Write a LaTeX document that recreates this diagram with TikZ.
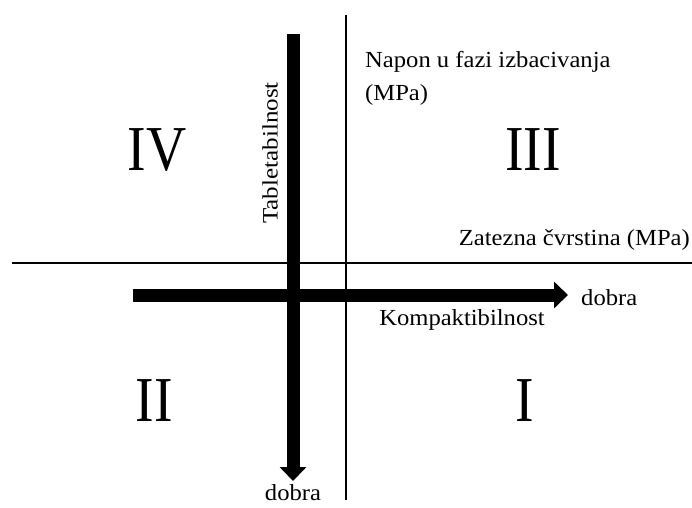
\documentclass[tikz,border=0pt]{standalone}
\usepackage{fontspec}
\setmainfont{Liberation Serif}
\newfontfamily\lblfont[FakeStretch=1.07]{Liberation Serif}
\newfontfamily\vertfont[FakeStretch=1.14]{Liberation Serif}
\newfontfamily\quadfont[FakeStretch=0.87]{Liberation Serif}
\usetikzlibrary{arrows.meta}
\begin{document}
\begin{tikzpicture}[x=1pt,y=-1pt,
  thinaxis/.style={line width=2.6pt},
  thickarrow/.style={line width=13pt,-{Triangle[length=14pt,width=26pt]}},
  lbl/.style={font=\lblfont\fontsize{23}{33}\selectfont, inner sep=0pt},
  vlbl/.style={font=\vertfont\fontsize{22}{26}\selectfont, inner sep=0pt, rotate=90},
  quad/.style={font=\quadfont\fontsize{64}{66}\selectfont, inner sep=0pt}]
\useasboundingbox (0,0) rectangle (692,507);
% thin axes
\coordinate (vt) at (346,15);
\coordinate (vb) at (346,500);
\coordinate (hl) at (12,263);
\coordinate (hr) at (692,263);
\draw[thinaxis] (vt) -- (vb);
\draw[thinaxis] (hl) -- (hr);
% thick arrows
\coordinate (at) at (293,34);
\coordinate (ab) at (293,481);
\coordinate (al) at (133,295);
\coordinate (ar) at (568,295);
\draw[thickarrow] (at) -- (ab);
\draw[thickarrow] (al) -- (ar);
% labels
\node[lbl, anchor=base west] (napon) at (365,67) {Napon u fazi izbacivanja};
\node[lbl, anchor=base west] (mpa) at (365,100) {(MPa)};
\node[lbl, anchor=base east] (zat) at (690,245) {Zatezna čvrstina (MPa)};
\node[lbl, anchor=base west] (dobraR) at (581,305) {dobra};
\node[lbl, anchor=base] (komp) at (462,325) {Kompaktibilnost};
\node[lbl, anchor=base] (dobraB) at (293,500) {dobra};
\node[vlbl] (tab) at (270,153) {Tabletabilnost};
% quadrants
\node[quad] (q4) at (157,150) {IV};
\node[quad] (q3) at (533,150) {III};
\node[quad] (q2) at (154,401) {II};
\node[quad] (q1) at (525,401) {I};
\end{tikzpicture}
\end{document}
